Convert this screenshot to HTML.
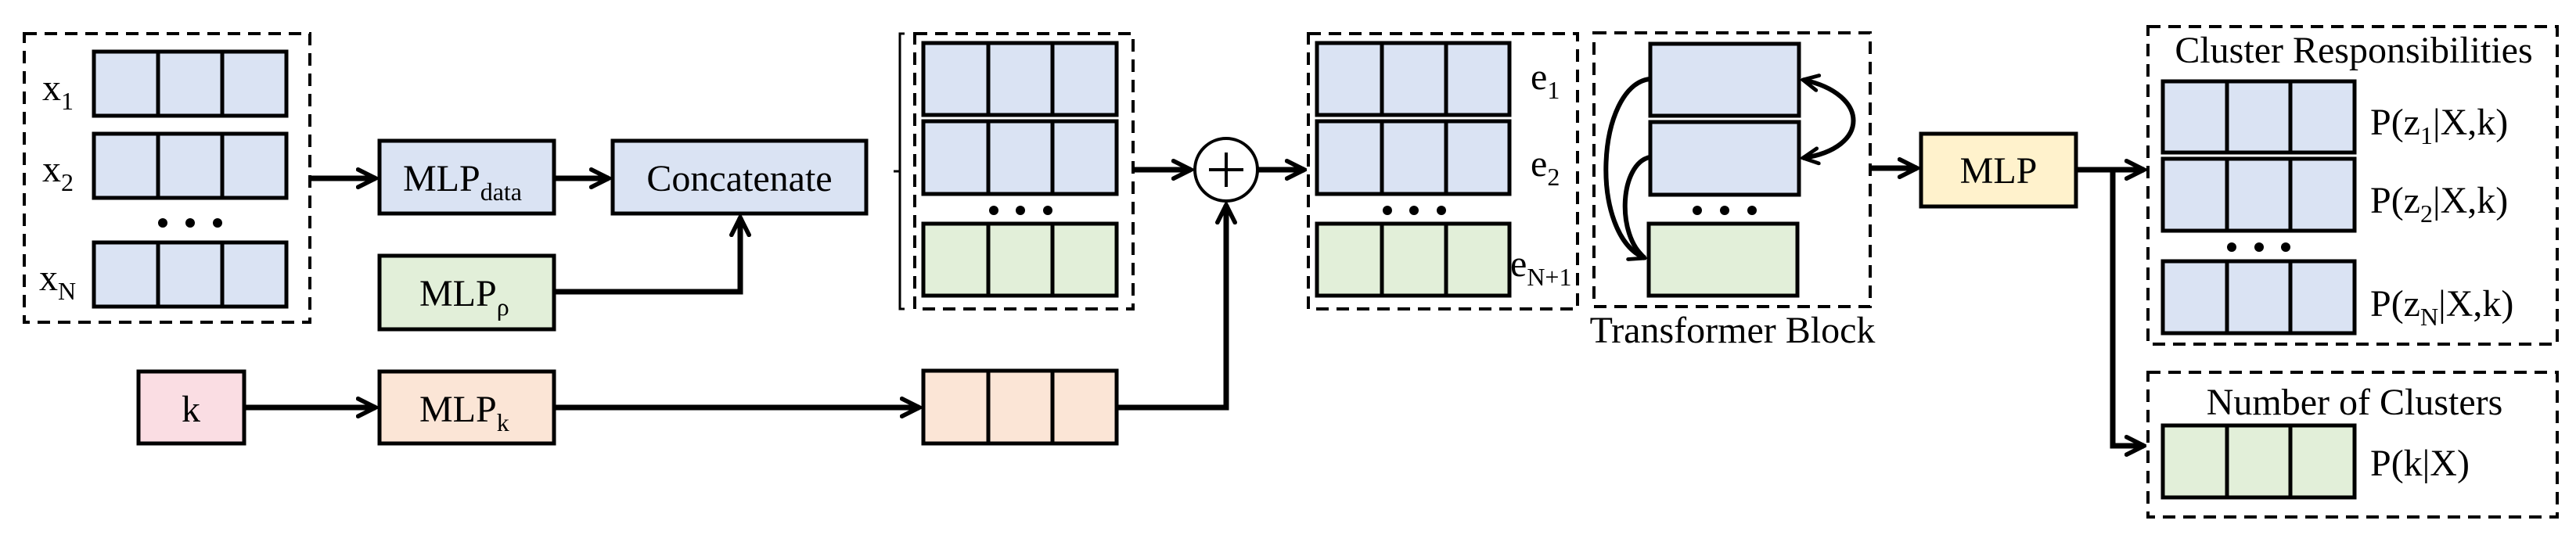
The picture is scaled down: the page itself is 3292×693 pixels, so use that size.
<!DOCTYPE html>
<html><head><meta charset="utf-8"><style>html,body{margin:0;padding:0;background:#fff}svg{display:block}</style></head>
<body>
<svg width="3292" height="693" viewBox="0 0 3292 693" xmlns="http://www.w3.org/2000/svg" font-family="'Liberation Serif', serif" fill="#000">
<defs>
<marker id="ah" viewBox="0 0 10 10" refX="9" refY="5" markerWidth="4" markerHeight="4" orient="auto-start-reverse" markerUnits="strokeWidth">
<path d="M1,1 L9,5 L1,9" fill="none" stroke="#000" stroke-width="2" stroke-linecap="round"/>
</marker>
</defs>
<g fill="none" stroke="#000" stroke-width="4" stroke-dasharray="16,10">
<rect x="31" y="43" width="365" height="369"/>
<rect x="1169" y="43" width="279" height="352"/>
<rect x="1672" y="43" width="344" height="352"/>
<rect x="2037" y="42" width="353" height="350"/>
<rect x="2745" y="34" width="523" height="406"/>
<rect x="2745" y="476" width="523" height="185"/>
</g>
<path d="M1156,43 L1150,43 L1150,395 L1156,395 M1142,219 L1150,219" fill="none" stroke="#000" stroke-width="3"/>
<g stroke="#000" stroke-width="5">
<!-- input rows -->
<g fill="#dae3f3">
<rect x="120" y="66" width="246" height="82"/><rect x="120" y="171" width="246" height="82"/><rect x="120" y="310" width="246" height="82"/>
<rect x="1180" y="55" width="247" height="92"/><rect x="1180" y="155" width="247" height="93"/>
<rect x="1683" y="55" width="246" height="92"/><rect x="1683" y="155" width="246" height="93"/>
<rect x="2109" y="56" width="190" height="92"/><rect x="2109" y="156" width="190" height="93"/>
<rect x="2764" y="104" width="245" height="91"/><rect x="2764" y="203" width="245" height="92"/><rect x="2764" y="334" width="245" height="92"/>
<rect x="485" y="180" width="223" height="93"/><rect x="783" y="180" width="324" height="93"/>
</g>
<g fill="#e2efd9">
<rect x="1180" y="286" width="247" height="92"/><rect x="1683" y="286" width="246" height="92"/>
<rect x="2107" y="286" width="190" height="92"/><rect x="2764" y="544" width="245" height="92"/>
<rect x="485" y="327" width="223" height="94"/>
</g>
<rect x="177" y="475" width="135" height="92" fill="#fadde3"/>
<g fill="#fbe5d6"><rect x="485" y="475" width="223" height="92"/><rect x="1180" y="474" width="247" height="93"/></g>
<rect x="2455" y="171" width="198" height="93" fill="#fff2cc"/>
<path d="M202,66V148M284,66V148M202,171V253M284,171V253M202,310V392M284,310V392
M1263,55V147M1345,55V147M1263,155V248M1345,155V248M1263,286V378M1345,286V378M1263,474V567M1345,474V567
M1766,55V147M1848,55V147M1766,155V248M1848,155V248M1766,286V378M1848,286V378
M2846,104V195M2927,104V195M2846,203V295M2927,203V295M2846,334V426M2927,334V426M2846,544V636M2927,544V636" fill="none"/>
</g>
<!-- dots -->
<g>
<circle cx="208" cy="285" r="6"/><circle cx="243" cy="285" r="6"/><circle cx="278" cy="285" r="6"/>
<circle cx="1270" cy="269" r="6"/><circle cx="1304" cy="269" r="6"/><circle cx="1339" cy="269" r="6"/>
<circle cx="1773" cy="269" r="6"/><circle cx="1807" cy="269" r="6"/><circle cx="1842" cy="269" r="6"/>
<circle cx="2169" cy="269" r="6"/><circle cx="2204" cy="269" r="6"/><circle cx="2239" cy="269" r="6"/>
<circle cx="2852" cy="316" r="6"/><circle cx="2887" cy="316" r="6"/><circle cx="2921" cy="316" r="6"/>
</g>
<!-- plus circle -->
<circle cx="1567" cy="217" r="40" fill="#fff" stroke="#000" stroke-width="4"/>
<path d="M1545,217H1589M1567,195V239" stroke="#000" stroke-width="4"/>
<!-- arrows -->
<g fill="none" stroke="#000" stroke-width="7" marker-end="url(#ah)">
<path d="M396,228H480"/>
<path d="M708,228H778"/>
<path d="M708,373H946V278"/>
<path d="M312,521H480"/>
<path d="M708,521H1175"/>
<path d="M1427,521H1567V262"/>
<path d="M1448,217H1522"/>
<path d="M1607,217H1667"/>
<path d="M2390,215H2450"/>
<path d="M2653,217H2740"/>
<path d="M2700,217V570H2740"/>
<path d="M2108,101C2040,110 2030,300 2102,330" stroke-width="6"/>
<path d="M2108,201C2070,210 2065,300 2102,330" stroke-width="6" marker-end="none"/>
<path d="M2304,102C2390,120 2390,190 2304,202" stroke-width="6" marker-start="url(#ah)"/>
</g>
<!-- text -->
<g font-size="48">
<text x="54" y="128">x<tspan font-size="32" dy="12">1</tspan></text>
<text x="54" y="232">x<tspan font-size="32" dy="12">2</tspan></text>
<text x="50" y="371">x<tspan font-size="32" dy="12">N</tspan></text>
<text x="515" y="244">MLP<tspan font-size="32" dy="12">data</tspan></text>
<text x="945" y="244" text-anchor="middle">Concatenate</text>
<text x="536" y="391">MLP<tspan font-size="32" dy="12">ρ</tspan></text>
<text x="244" y="539" text-anchor="middle">k</text>
<text x="536" y="539">MLP<tspan font-size="32" dy="12">k</tspan></text>
<text x="1956" y="114">e<tspan font-size="32" dy="12">1</tspan></text>
<text x="1956" y="225">e<tspan font-size="32" dy="12">2</tspan></text>
<text x="1930" y="353">e<tspan font-size="32" dy="12">N+1</tspan></text>
<text x="2214" y="438" text-anchor="middle">Transformer Block</text>
<text x="2554" y="234" text-anchor="middle">MLP</text>
<text x="3008" y="80" text-anchor="middle">Cluster Responsibilities</text>
<text x="3029" y="172">P(z<tspan font-size="32" dy="12">1</tspan><tspan dy="-12">|X,k)</tspan></text>
<text x="3029" y="272">P(z<tspan font-size="32" dy="12">2</tspan><tspan dy="-12">|X,k)</tspan></text>
<text x="3029" y="404">P(z<tspan font-size="32" dy="12">N</tspan><tspan dy="-12">|X,k)</tspan></text>
<text x="3009" y="530" text-anchor="middle">Number of Clusters</text>
<text x="3029" y="608">P(k|X)</text>
</g>
</svg>
</body></html>
